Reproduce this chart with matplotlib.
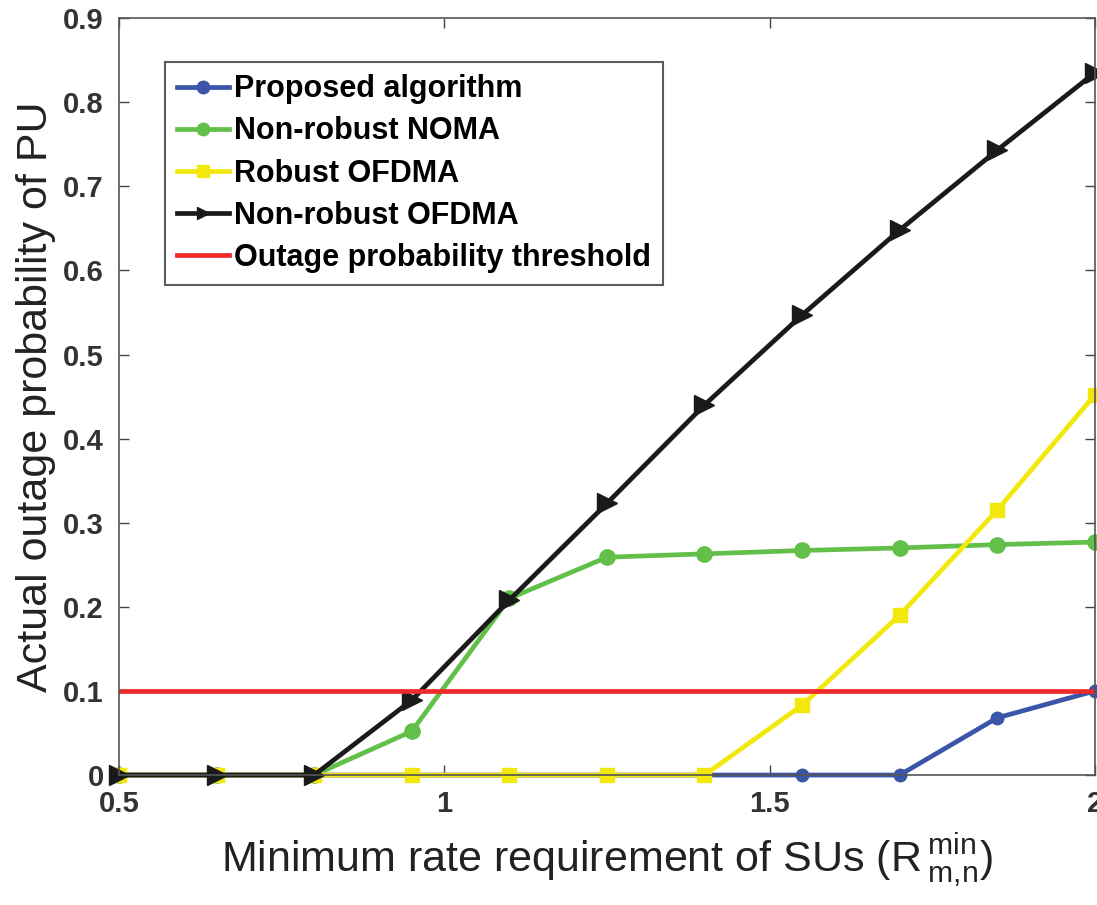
import numpy as np
import matplotlib.pyplot as plt

plt.rcParams["font.family"] = ["Liberation Sans", "DejaVu Sans"]
plt.rcParams["mathtext.fontset"] = "custom"
plt.rcParams["mathtext.rm"] = "Liberation Sans"
plt.rcParams["mathtext.it"] = "Liberation Sans"

# data
rate_min = [0.5, 0.65, 0.8, 0.95, 1.1, 1.25, 1.4, 1.55, 1.7, 1.85, 2.0]
proposed = [0, 0, 0, 0, 0, 0, 0, 0, 0, 0.068, 0.100]
nonrobust_noma = [0, 0, 0, 0.052, 0.210, 0.259, 0.263, 0.267, 0.270, 0.274, 0.277]
robust_ofdma = [0, 0, 0, 0, 0, 0, 0, 0.083, 0.190, 0.315, 0.452]
nonrobust_ofdma = [0, 0, 0, 0.089, 0.208, 0.323, 0.440, 0.547, 0.648, 0.743, 0.835]
threshold = 0.1

x_ticks = [0.5, 1, 1.5, 2]
x_tick_labels = ["0.5", "1", "1.5", "2"]
y_ticks = [0, 0.1, 0.2, 0.3, 0.4, 0.5, 0.6, 0.7, 0.8, 0.9]
y_tick_labels = ["0", "0.1", "0.2", "0.3", "0.4", "0.5", "0.6", "0.7", "0.8", "0.9"]

fig = plt.figure(figsize=(10.97, 9.05), dpi=100)
ax = fig.add_axes([0.1085, 0.1436, 0.8895, 0.8364])

lw = 3.4
ax.plot(rate_min, proposed, color="#3B55A8", marker="o", markersize=9, lw=lw,
        label="Proposed algorithm", clip_on=False)
ax.plot(rate_min, nonrobust_noma, color="#62C04A", marker="o", markersize=11, lw=lw,
        label="Non-robust NOMA", clip_on=False)
ax.plot(rate_min, robust_ofdma, color="#F2E80C", marker="s", markersize=10, lw=lw,
        label="Robust OFDMA", clip_on=False)
ax.plot(rate_min, nonrobust_ofdma, color="#1A1A1A", marker=">", markersize=14, lw=lw,
        label="Non-robust OFDMA", clip_on=False)
ax.axhline(threshold, color="#EE2A2A", lw=lw, label="Outage probability threshold")

ax.set_xlim(0.5, 2)
ax.set_ylim(0, 0.9)
ax.set_xticks(x_ticks)
ax.set_xticklabels(x_tick_labels)
ax.set_yticks(y_ticks)
ax.set_yticklabels(y_tick_labels)
ax.tick_params(direction="in", length=7, width=1, colors="#444444", labelcolor="#333333",
               top=True, right=True, labelsize=21, pad=11)
for lbl in ax.get_xticklabels() + ax.get_yticklabels():
    lbl.set_fontweight("bold")
for sp in ax.spines.values():
    sp.set_color("#555555")
    sp.set_linewidth(1.2)

ax.set_xlabel(r"Minimum rate requirement of SUs (R$\,{}_{\mathrm{m,\!n}}^{\mathrm{min}}$)",
              fontsize=31, labelpad=9, color="#222222")
ax.set_ylabel("Actual outage probability of PU", fontsize=31, labelpad=5, color="#222222")

leg = ax.legend(loc="upper left", bbox_to_anchor=(0.047, 0.942),
                prop={"weight": "bold", "size": 22}, frameon=True, fancybox=False,
                edgecolor="#333333", handlelength=1.7, handletextpad=0.15,
                borderpad=0.4, labelspacing=0.4, borderaxespad=0)
leg.get_frame().set_linewidth(1.5)
for h in leg.legend_handles:
    h.set_markersize(9)

fig.savefig("out.png", dpi=100)
